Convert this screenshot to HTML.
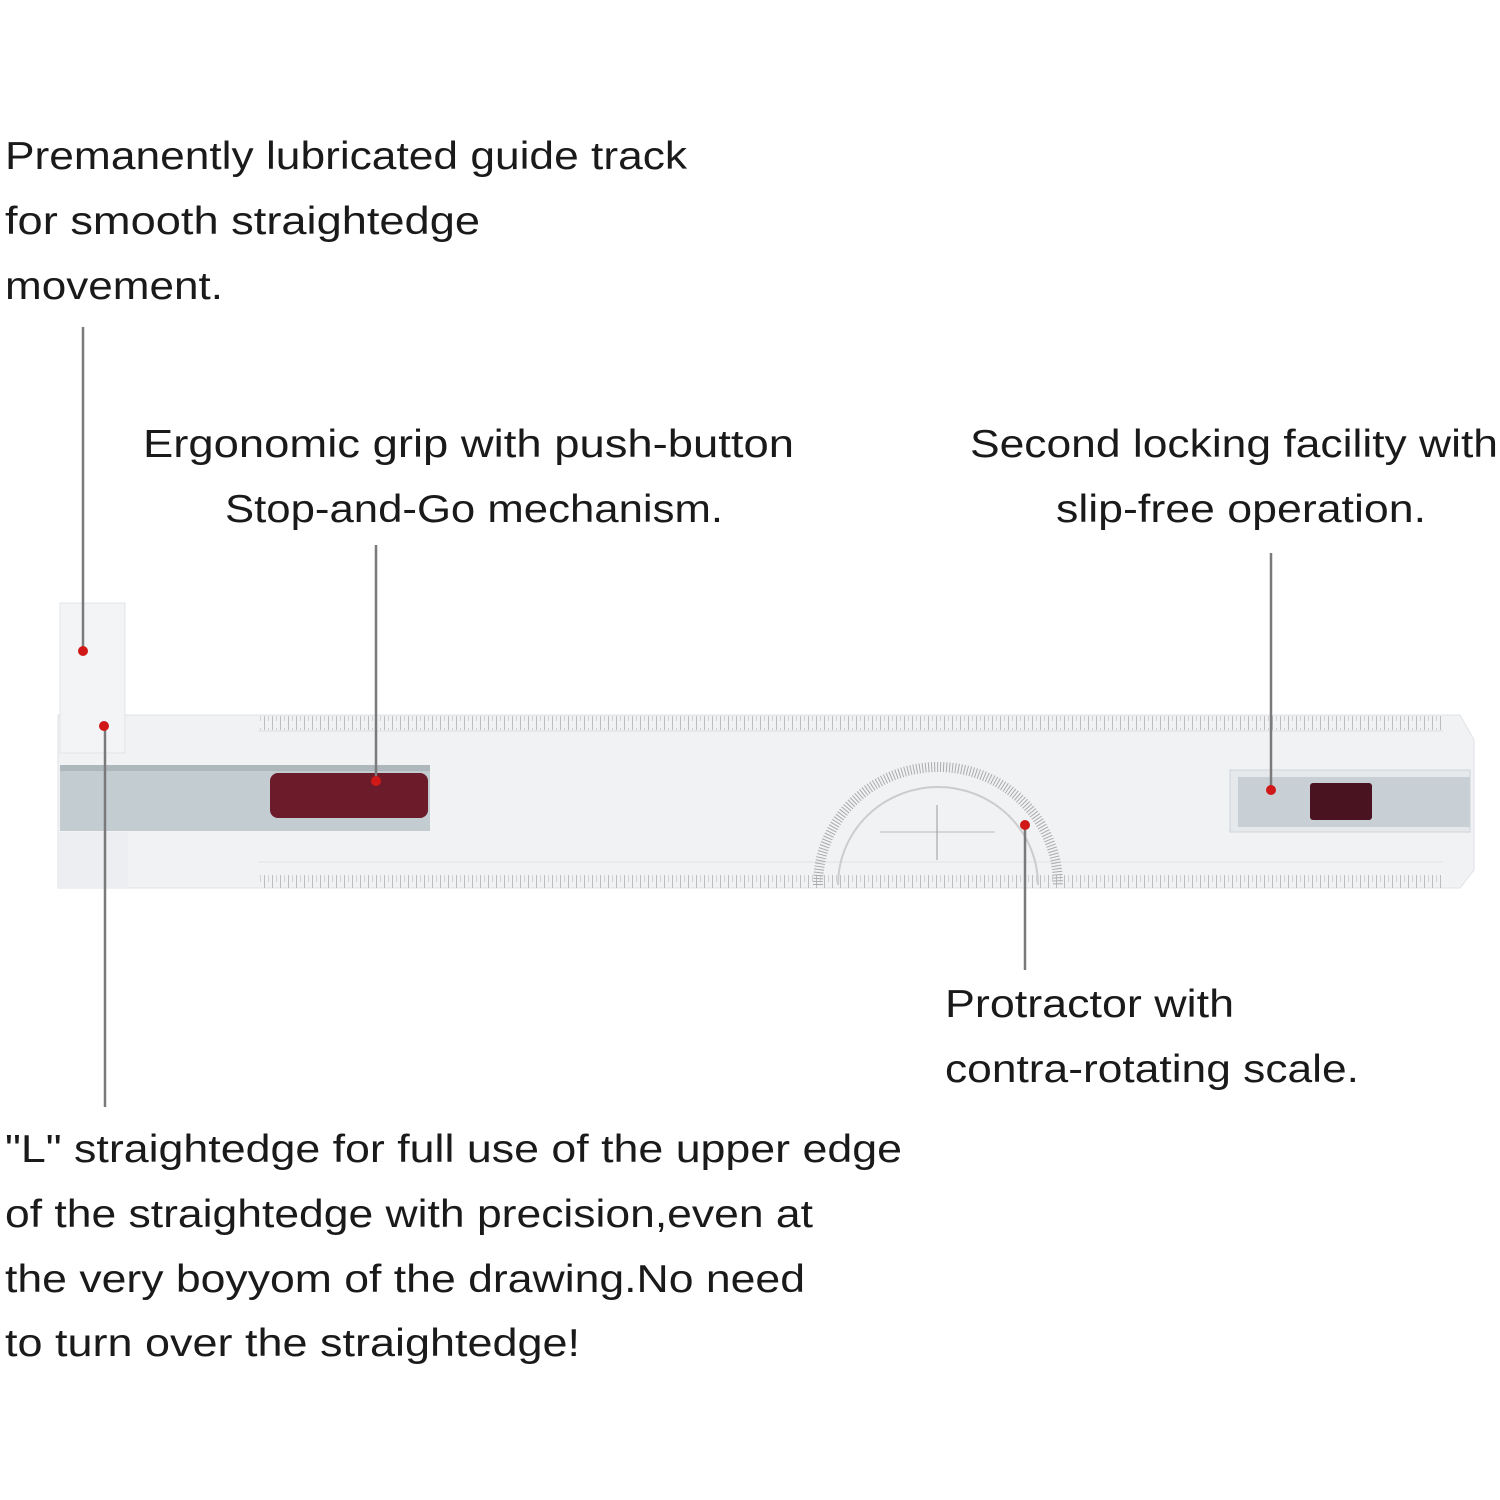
<!DOCTYPE html>
<html><head><style>
html,body{margin:0;padding:0;background:#fff;}
svg{display:block;}
text{font-family:"Liberation Sans",sans-serif;fill:#1a1a1a;}
</style></head><body>
<svg width="1500" height="1500" viewBox="0 0 1500 1500">
<defs>
<pattern id="tk" width="8" height="14" patternUnits="userSpaceOnUse">
<rect x="0" y="0" width="1" height="14" fill="#999"/><rect x="4" y="0" width="1" height="7" fill="#bbb"/>
</pattern>
<pattern id="tk2" width="8" height="14" patternUnits="userSpaceOnUse">
<rect x="0" y="0" width="1" height="14" fill="#999"/><rect x="4" y="7" width="1" height="7" fill="#bbb"/>
</pattern>
</defs>
<!-- texts -->
<g font-size="39">
<text x="5" y="169" textLength="682" lengthAdjust="spacingAndGlyphs">Premanently lubricated guide track</text>
<text x="5" y="234" textLength="475" lengthAdjust="spacingAndGlyphs">for smooth straightedge</text>
<text x="5" y="299" textLength="218" lengthAdjust="spacingAndGlyphs">movement.</text>
<text x="143" y="457" textLength="651" lengthAdjust="spacingAndGlyphs">Ergonomic grip with push-button</text>
<text x="225" y="522" textLength="498" lengthAdjust="spacingAndGlyphs">Stop-and-Go mechanism.</text>
<text x="970" y="457" textLength="528" lengthAdjust="spacingAndGlyphs">Second locking facility with</text>
<text x="1056" y="522" textLength="370" lengthAdjust="spacingAndGlyphs">slip-free operation.</text>
<text x="945" y="1017" textLength="289" lengthAdjust="spacingAndGlyphs">Protractor with</text>
<text x="945" y="1082" textLength="414" lengthAdjust="spacingAndGlyphs">contra-rotating scale.</text>
<text x="5" y="1162" textLength="897" lengthAdjust="spacingAndGlyphs">"L" straightedge for full use of the upper edge</text>
<text x="5" y="1227" textLength="808" lengthAdjust="spacingAndGlyphs">of the straightedge with precision,even at</text>
<text x="5" y="1292" textLength="800" lengthAdjust="spacingAndGlyphs">the very boyyom of the drawing.No need</text>
<text x="5" y="1356" textLength="575" lengthAdjust="spacingAndGlyphs">to turn over the straightedge!</text>
</g>
<!-- ruler body -->
<path d="M58 715 L1460 715 L1474 740 L1474 870 L1460 888 L58 888 Z" fill="#f1f2f4" stroke="#e0e2e6"/>
<rect x="60" y="603" width="65" height="150" fill="#f3f4f6" stroke="#e2e4e8"/>
<rect x="58" y="832" width="70" height="56" fill="#eceef1"/>
<rect x="258" y="716" width="1185" height="14" fill="url(#tk)" opacity="0.6"/>
<rect x="258" y="875" width="1185" height="13" fill="url(#tk2)" opacity="0.6"/>
<line x1="258" y1="731" x2="1443" y2="731" stroke="#ddd"/>
<line x1="258" y1="862" x2="1443" y2="862" stroke="#e2e2e2"/>
<!-- grip -->
<rect x="60" y="765" width="370" height="66" fill="#c3ccd1"/>
<rect x="60" y="765" width="370" height="6" fill="#aeb7bc"/>
<rect x="270" y="773" width="158" height="45" rx="8" fill="#6b1b2a"/>
<!-- right lock -->
<rect x="1230" y="770" width="240" height="62" fill="#e6e9ec" stroke="#d0d4d8"/>
<rect x="1238" y="777" width="232" height="50" fill="#c9d0d5"/>
<rect x="1310" y="783" width="62" height="37" rx="3" fill="#4a1320"/>
<!-- protractor -->
<path d="M818 885 A120 118 0 0 1 1058 885" fill="none" stroke="#aaa" stroke-width="10" stroke-dasharray="1 2"/>
<path d="M838 885 A100 98 0 0 1 1038 885" fill="none" stroke="#ccc" stroke-width="2"/>
<line x1="880" y1="832" x2="995" y2="832" stroke="#bbb"/>
<line x1="937" y1="805" x2="937" y2="860" stroke="#999"/>
<!-- leaders -->
<g stroke="#7a7a7a" stroke-width="2.5">
<line x1="83" y1="327" x2="83" y2="650"/>
<line x1="376" y1="545" x2="376" y2="780"/>
<line x1="1271" y1="553" x2="1271" y2="790"/>
<line x1="1025" y1="825" x2="1025" y2="970"/>
<line x1="105" y1="726" x2="105" y2="1107"/>
</g>
<g fill="#d01818">
<circle cx="83" cy="651" r="5"/><circle cx="104" cy="726" r="5"/>
<circle cx="376" cy="781" r="5"/><circle cx="1271" cy="790" r="5"/><circle cx="1025" cy="825" r="5"/>
</g>
</svg>
</body></html>
